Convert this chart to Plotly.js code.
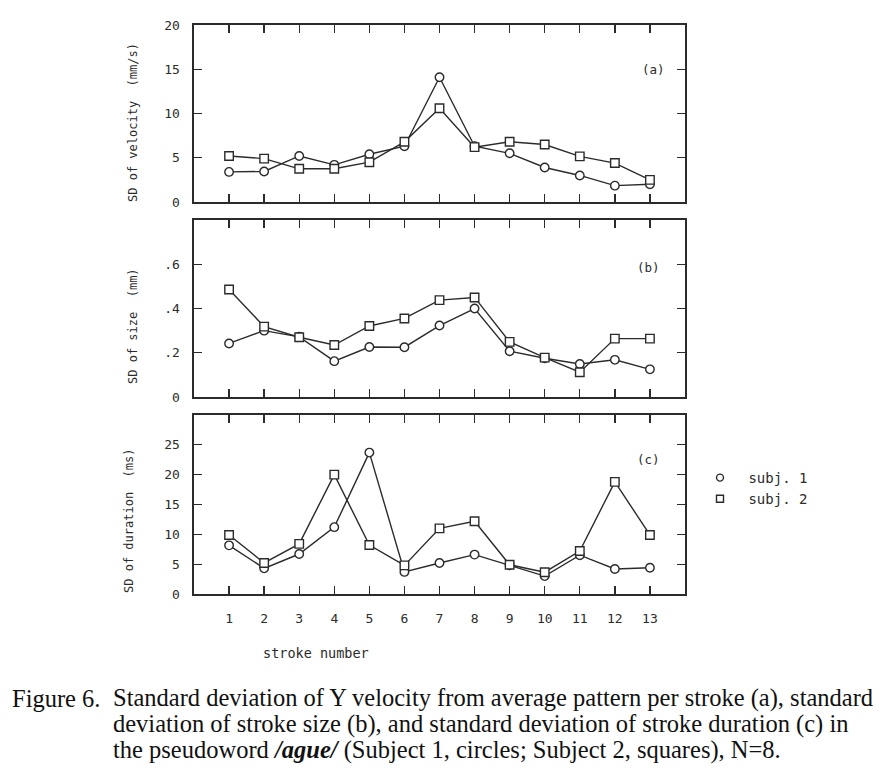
<!DOCTYPE html>
<html>
<head>
<meta charset="utf-8">
<script src="https://cdn.plot.ly/plotly-3.0.1.min.js"></script>
<style>
html,body{margin:0;padding:0;background:#fff;}
#chart{width:893px;height:779px;}
</style>
</head>
<body>
<div id="chart"></div>
<script>
// ---- data ----
const strokes = [1,2,3,4,5,6,7,8,9,10,11,12,13];
const velS1 = [3.4,3.45,5.2,4.2,5.4,6.3,14.1,6.3,5.5,3.9,3.0,1.85,2.0];
const velS2 = [5.2,4.9,3.75,3.75,4.5,6.8,10.6,6.2,6.8,6.5,5.15,4.4,2.5];
const sizeS1 = [0.242,0.30,0.272,0.162,0.226,0.225,0.323,0.40,0.207,0.175,0.149,0.168,0.125];
const sizeS2 = [0.486,0.318,0.27,0.235,0.321,0.355,0.438,0.45,0.249,0.178,0.112,0.264,0.264];
const durS1 = [8.15,4.3,6.7,11.2,23.7,3.7,5.2,6.6,4.8,3.0,6.5,4.2,4.4];
const durS2 = [9.9,5.2,8.4,20.0,8.2,4.8,11.0,12.2,4.9,3.65,7.2,18.8,9.9];
const velTicks = [0,5,10,15,20];
const velTickText = ['0','5','10','15','20'];
const sizeTicks = [0,0.2,0.4,0.6];
const sizeTickText = ['0','.2','.4','.6'];
const durTicks = [0,5,10,15,20,25];
const durTickText = ['0','5','10','15','20','25'];
const seriesNames = [' subj. 1',' subj. 2'];
const panelLabels = ['(a)','(b)','(c)'];
const yTitles = ['SD of velocity  (mm/s)','SD of size  (mm)','SD of duration  (ms)'];
const xTitle = 'stroke number';
const captionLines = [
  'Standard deviation of Y velocity from average pattern per stroke (a), standard',
  'deviation of stroke size (b), and standard deviation of stroke duration (c) in',
  'the pseudoword <b><i>/ague/</i></b> (Subject 1, circles; Subject 2, squares), N=8.'
];
const captionLead = 'Figure 6.';

// ---- layout geometry (pixels) ----
const W = 893, H = 779;
const L = 194, R = 208, T = 25, B = 185;
const pw = W - L - R, ph = H - T - B;
const px2x = p => (p - L) / pw;
const py2y = p => (H - B - p) / ph;

const ink = '#2b2b2b';
const mono = 'DejaVu Sans Mono, Liberation Mono, monospace';
const serif = 'Liberation Serif, DejaVu Serif, serif';

function mk(x, y, sym, xa, ya) {
  return {
    x: x, y: y, xaxis: xa, yaxis: ya, type: 'scatter', mode: 'lines+markers',
    showlegend: false, hoverinfo: 'skip',
    line: {color: ink, width: 1.4},
    marker: {symbol: sym, size: 8.5, color: '#ffffff', line: {color: ink, width: 1.4}}
  };
}

const traces = [
  mk(strokes, velS1, 'circle', 'x', 'y'),
  mk(strokes, velS2, 'square', 'x', 'y'),
  mk(strokes, sizeS1, 'circle', 'x2', 'y2'),
  mk(strokes, sizeS2, 'square', 'x2', 'y2'),
  mk(strokes, durS1, 'circle', 'x3', 'y3'),
  mk(strokes, durS2, 'square', 'x3', 'y3'),
  {x:[null], y:[null], xaxis:'x3', yaxis:'y3', type:'scatter', mode:'markers', name: seriesNames[0], showlegend:true,
   marker:{symbol:'circle', size:7, color:'#fff', line:{color:ink, width:1.4}}},
  {x:[null], y:[null], xaxis:'x3', yaxis:'y3', type:'scatter', mode:'markers', name: seriesNames[1], showlegend:true,
   marker:{symbol:'square', size:7, color:'#fff', line:{color:ink, width:1.4}}}
];

function xa(anchor, labels) {
  return {
    anchor: anchor, domain: [0, 1], range: [0, 14],
    tickvals: strokes, ticktext: strokes.map(String), showticklabels: labels,
    ticks: 'inside', ticklen: 8, tickwidth: 1.3, tickcolor: ink,
    mirror: 'allticks', showline: true, linewidth: 1.6, linecolor: ink,
    showgrid: false, zeroline: false, ticklabelstandoff: 12,
    tickfont: {family: mono, size: 13, color: ink}, fixedrange: true
  };
}
function ya(anchor, dom, range, tv, tt) {
  return {
    anchor: anchor, domain: dom, range: range, tickvals: tv, ticktext: tt,
    ticks: 'inside', ticklen: 8, tickwidth: 1.3, tickcolor: ink,
    mirror: 'allticks', showline: true, linewidth: 1.6, linecolor: ink,
    showgrid: false, zeroline: false, ticklabelstandoff: 10,
    tickfont: {family: mono, size: 13, color: ink}, fixedrange: true
  };
}

const annotations = [];
// panel labels
annotations.push({xref:'x', yref:'y', x:13.1, y:15, text:panelLabels[0], showarrow:false, font:{family:mono,size:12.5,color:ink}});
annotations.push({xref:'x2', yref:'y2', x:12.95, y:0.585, text:panelLabels[1], showarrow:false, font:{family:mono,size:12.5,color:ink}});
annotations.push({xref:'x3', yref:'y3', x:12.95, y:22.6, text:panelLabels[2], showarrow:false, font:{family:mono,size:12.5,color:ink}});
// y titles
const titlePos = [[133,123],[133,326],[129,521]];
yTitles.forEach((t,i)=>{
  annotations.push({xref:'paper', yref:'paper', x:px2x(titlePos[i][0]), y:py2y(titlePos[i][1]), text:t, textangle:-90,
    showarrow:false, xanchor:'center', yanchor:'middle', font:{family:mono,size:12,color:ink}});
});
// x title
annotations.push({xref:'paper', yref:'paper', x:px2x(316), y:py2y(653), text:xTitle, showarrow:false,
  xanchor:'center', yanchor:'middle', font:{family:mono,size:13.5,color:ink}});
// caption
annotations.push({xref:'paper', yref:'paper', x:px2x(10), y:py2y(698), text:captionLead, showarrow:false,
  xanchor:'left', yanchor:'middle', font:{family:serif,size:24.5,color:'#111'}});
const capY = [698,724,750];
captionLines.forEach((t,i)=>{
  annotations.push({xref:'paper', yref:'paper', x:px2x(111), y:py2y(capY[i]), text:t, showarrow:false,
    xanchor:'left', yanchor:'middle', font:{family:serif,size:24.5,color:'#111'}});
});

const layout = {
  width: W, height: H,
  margin: {l: L, r: R, t: T, b: B, pad: 0},
  paper_bgcolor: '#ffffff', plot_bgcolor: '#ffffff',
  showlegend: true,
  legend: {x: px2x(700), y: py2y(462), xanchor: 'left', yanchor: 'top', bgcolor: 'rgba(0,0,0,0)',
    font: {family: mono, size: 14, color: ink}, itemwidth: 30, tracegroupgap: 0},
  xaxis: xa('y', false),
  yaxis: ya('x', [py2y(202), 1], [0, 20], velTicks, velTickText),
  xaxis2: xa('y2', false),
  yaxis2: ya('x2', [py2y(397), py2y(220)], [0, 0.8], sizeTicks, sizeTickText),
  xaxis3: xa('y3', true),
  yaxis3: ya('x3', [0, py2y(415)], [0, 30], durTicks, durTickText),
  annotations: annotations
};

Plotly.newPlot('chart', traces, layout, {displayModeBar: false, staticPlot: true});
</script>
</body>
</html>
